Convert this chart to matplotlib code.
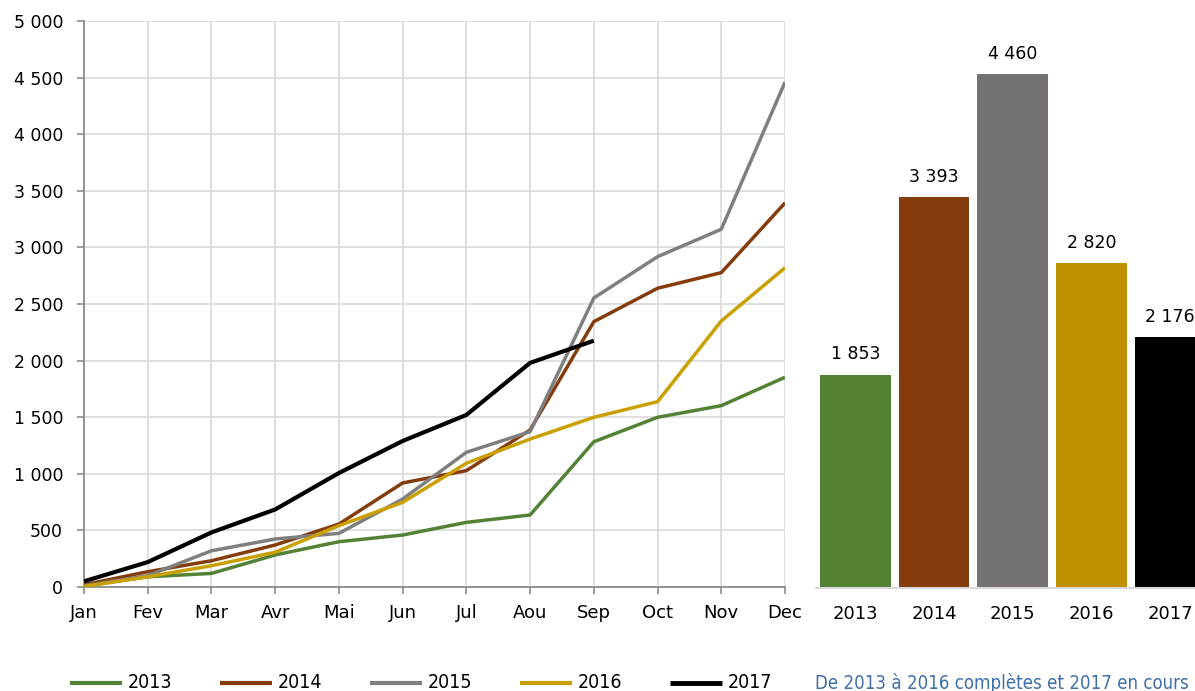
import matplotlib
matplotlib.use("Agg")
import matplotlib.pyplot as plt
from matplotlib.ticker import FuncFormatter
from matplotlib.lines import Line2D
from matplotlib import font_manager

months = ["Jan", "Fev", "Mar", "Avr", "Mai", "Jun", "Jul", "Aou", "Sep", "Oct", "Nov", "Dec"]
years = ["2013", "2014", "2015", "2016", "2017"]

v2013 = [10, 90, 120, 283, 400, 459, 571, 636, 1283, 1499, 1602, 1853]
v2014 = [20, 135, 232, 371, 556, 919, 1028, 1387, 2344, 2639, 2777, 3393]
v2015 = [10, 100, 320, 424, 474, 777, 1190, 1372, 2553, 2918, 3160, 4460]
v2016 = [5, 90, 188, 307, 542, 748, 1093, 1307, 1499, 1637, 2350, 2820]
v2017 = [50, 220, 482, 685, 1007, 1290, 1520, 1980, 2176]

totals = [1853, 3393, 4460, 2820, 2176]

line_colors = ["#548235", "#843c0c", "#7f7f7f", "#c9a000", "#000000"]
bar_colors = ["#548235", "#843c0c", "#767171", "#bf9000", "#000000"]

# find a condensed font with a regular weight
best = None
for f in font_manager.fontManager.ttflist:
    nm = f.name
    cond = ("Condensed" in nm or "Narrow" in nm or
            str(f.stretch) in ("condensed", "semi-condensed", "extra-condensed") or
            (isinstance(f.stretch, int) and f.stretch < 500))
    if not cond or f.style != "normal":
        continue
    w = f.weight if isinstance(f.weight, int) else {"normal": 400, "regular": 400,
                                                      "bold": 700, "light": 300}.get(str(f.weight), 500)
    score = abs(w - 400)
    if best is None or score < best[0]:
        best = (score, nm, f.stretch, w)
narrow = best

def fmt(v, pos=None):
    return "{:,}".format(int(v)).replace(",", " ")

fig = plt.figure(figsize=(11.95, 6.91), dpi=100)

# ---- Line chart ----
ax = fig.add_axes([84/1195, 104/691, 701/1195, 566/691])
series = [v2013, v2014, v2015, v2016, v2017]
handles = []
for i, (vals, c) in enumerate(zip(series, line_colors)):
    lw = 3.0 if i == 4 else 2.5
    h, = ax.plot(range(len(vals)), vals, color=c, lw=lw, solid_capstyle="butt",
                 label=years[i], zorder=3 + (i == 4))
    handles.append(h)

ax.set_xlim(0, 11)
ax.set_ylim(0, 5000)
ax.set_xticks(range(12))
ax.set_xticklabels(months)
ax.set_yticks(range(0, 5001, 500))
ax.yaxis.set_major_formatter(FuncFormatter(fmt))
ax.grid(True, color="#d9d9d9", lw=1.2)
ax.set_axisbelow(True)
for s in ["top", "right"]:
    ax.spines[s].set_visible(False)
for s in ["left", "bottom"]:
    ax.spines[s].set_color("#8c8c8c")
    ax.spines[s].set_linewidth(1.3)
ax.tick_params(axis="y", direction="out", length=5, width=1.2, color="#8c8c8c",
               pad=10, labelsize=12.5)
ax.tick_params(axis="x", direction="out", length=5, width=1.2, color="#8c8c8c",
               pad=7, labelsize=13)

# ---- Bar chart ----
bx = fig.add_axes([816/1195, 103/691, 393.5/1195, 576/691])
bars = bx.bar(range(len(years)), totals, width=0.9, color=bar_colors, zorder=2)
bx.set_xlim(-0.5, 4.5)
bx.set_ylim(0, 5000)
bx.set_xticks(range(len(years)))
bx.set_xticklabels(years)
bx.set_yticks([])
for s in ["top", "right", "left"]:
    bx.spines[s].set_visible(False)
bx.spines["bottom"].set_color("#d9d9d9")
bx.spines["bottom"].set_linewidth(1.5)
bx.tick_params(axis="x", length=0, pad=12, labelsize=13)
for rect, v in zip(bars, totals):
    bx.annotate(fmt(v), (rect.get_x() + rect.get_width() / 2, v),
                xytext=(0, 8), textcoords="offset points",
                ha="center", va="bottom", fontsize=12.5)

# ---- Legend (manual placement) ----
if narrow:
    fkw = dict(family=[narrow[1], "DejaVu Sans"], fontstretch=narrow[2], fontweight=narrow[3])
    leg_size = 14
else:
    fkw = dict(family=["DejaVu Sans"])
    leg_size = 12
y_leg = 1 - 683/691
starts = [70, 220, 370, 520, 670]
for x0, h, lab in zip(starts, handles, years):
    fig.add_artist(Line2D([x0/1195, (x0 + 52)/1195], [y_leg, y_leg],
                          transform=fig.transFigure, color=h.get_color(),
                          lw=h.get_linewidth() + 0.5, solid_capstyle="butt"))
    fig.text((x0 + 58)/1195, y_leg, lab, ha="left", va="center",
             fontsize=leg_size, **fkw)

note = fig.text(815/1195, y_leg, "De 2013 à 2016 complètes et 2017 en cours",
                ha="left", va="center", color="#3f6fa8", fontsize=14, **fkw)
fig.canvas.draw()
r = fig.canvas.get_renderer()
wpx = note.get_window_extent(r).width
note.set_fontsize(14 * 377 / wpx)

fig.savefig("out.png", dpi=100)
